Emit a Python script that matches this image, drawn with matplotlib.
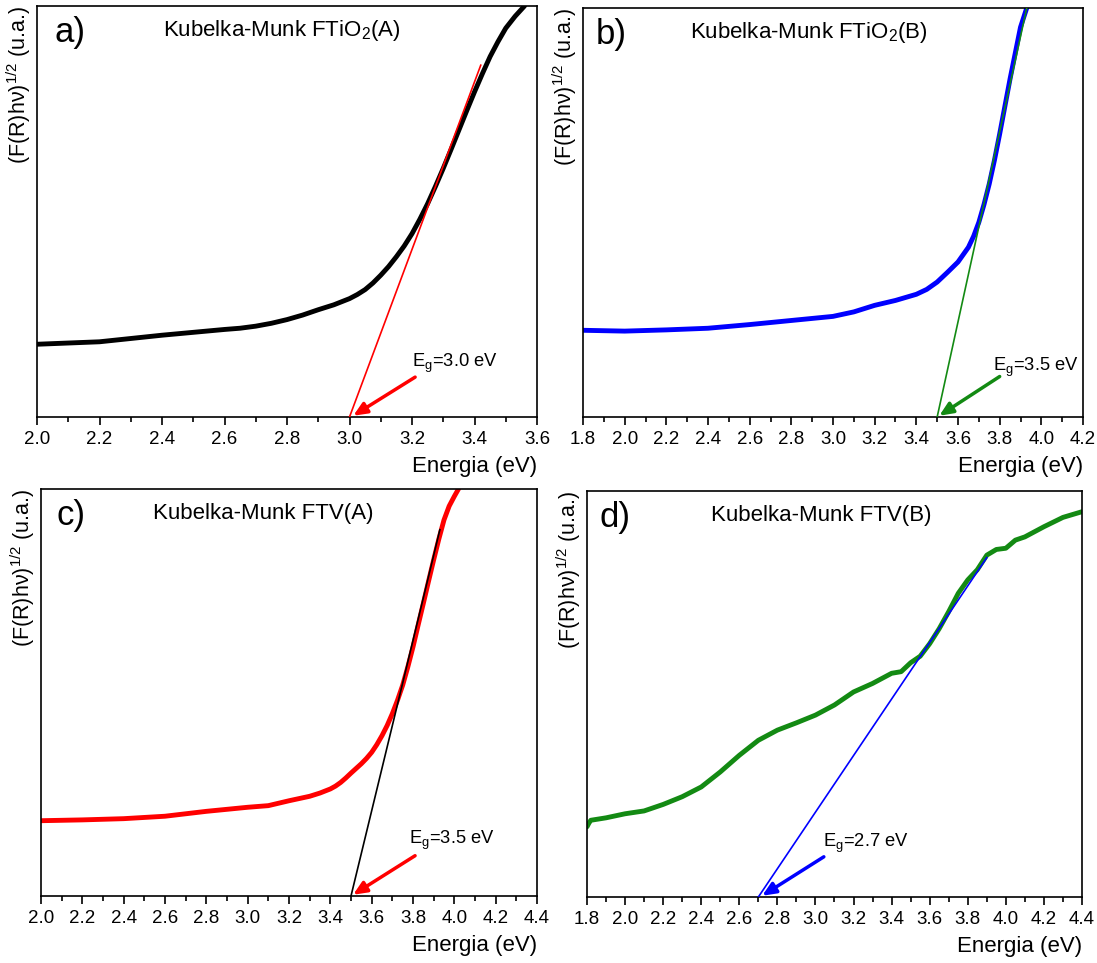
import matplotlib

matplotlib.use("Agg")
import matplotlib.pyplot as plt
from matplotlib.ticker import MultipleLocator

plt.rcParams["font.family"] = ["Liberation Sans", "DejaVu Sans"]
plt.rcParams["mathtext.fontset"] = "custom"
plt.rcParams["mathtext.rm"] = "Liberation Sans"
plt.rcParams["mathtext.it"] = "Liberation Sans"
plt.rcParams["mathtext.default"] = "regular"

# ==================== Data (arbitrary units 0-100) ====================
# a) FTiO2(A)
energy_a = [2.0, 2.1, 2.2, 2.3, 2.4, 2.5, 2.6, 2.65, 2.7, 2.75, 2.8, 2.85, 2.9, 2.95, 3.0,
            3.025, 3.05, 3.075, 3.1, 3.125, 3.15, 3.175, 3.2, 3.225, 3.25, 3.275, 3.3,
            3.325, 3.35, 3.375, 3.4, 3.425, 3.45, 3.475, 3.5, 3.53, 3.56]
km_a = [17.7, 18.0, 18.3, 19.1, 19.9, 20.6, 21.3, 21.6, 22.1, 22.8, 23.7, 24.8, 26.1, 27.3, 28.8,
        29.8, 31.0, 32.6, 34.5, 36.6, 39.0, 41.6, 44.6, 48.1, 51.9, 56.1, 60.5,
        65.1, 69.8, 74.5, 79.1, 83.5, 87.7, 91.3, 94.6, 97.5, 100.0]
fit_a = [3.0, 3.42]          # tangent line x range
fit_a_y = [0.0, 85.6]

# b) FTiO2(B)
energy_b = [1.8, 2.0, 2.2, 2.4, 2.6, 2.8, 3.0, 3.1, 3.2, 3.3, 3.4, 3.45, 3.5, 3.55, 3.6,
            3.65, 3.675, 3.7, 3.725, 3.75, 3.775, 3.8, 3.85, 3.9, 3.93]
km_b = [21.2, 21.0, 21.3, 21.7, 22.6, 23.6, 24.6, 25.7, 27.3, 28.5, 30.0, 31.2, 33.0, 35.4, 37.9,
        41.5, 44.2, 47.6, 52.0, 57.0, 62.8, 69.2, 82.7, 95.3, 100.0]
fit_b = [3.5, 3.93]
fit_b_y = [0.0, 100.0]

# c) FTV(A)
energy_c = [2.0, 2.2, 2.4, 2.6, 2.8, 3.0, 3.1, 3.2, 3.3, 3.35, 3.4, 3.425, 3.45, 3.475,
            3.5, 3.55, 3.575, 3.6, 3.625, 3.65, 3.675, 3.7, 3.725, 3.75, 3.775, 3.8,
            3.825, 3.85, 3.875, 3.9, 3.925, 3.95, 3.975, 4.0, 4.02]
km_c = [18.5, 18.7, 19.0, 19.6, 20.8, 21.8, 22.2, 23.4, 24.5, 25.3, 26.3, 27.0, 27.9, 29.0,
        30.2, 32.5, 33.8, 35.3, 37.2, 39.4, 41.9, 44.8, 48.1, 51.8, 56.3, 61.2,
        66.6, 71.9, 77.3, 82.6, 87.7, 92.4, 95.8, 98.2, 100.0]
fit_c = [3.5, 3.93]
fit_c_y = [0.0, 90.0]

# d) FTV(B)
energy_d = [1.8, 1.81, 1.82, 1.9, 2.0, 2.1, 2.2, 2.3, 2.4, 2.5, 2.6, 2.7, 2.8, 2.9, 3.0,
            3.1, 3.2, 3.3, 3.4, 3.45, 3.5, 3.55, 3.6, 3.65, 3.7, 3.75, 3.8, 3.85, 3.9,
            3.95, 4.0, 4.05, 4.1, 4.2, 4.3, 4.4]
km_d = [17.3, 18.2, 18.9, 19.5, 20.5, 21.2, 22.8, 24.7, 27.1, 30.8, 34.9, 38.6, 41.1, 42.9, 44.8,
        47.3, 50.5, 52.6, 55.1, 55.5, 57.7, 59.3, 62.4, 66.1, 70.3, 74.8, 78.1, 80.6, 84.2,
        85.6, 85.9, 87.9, 88.7, 91.2, 93.5, 94.9]
fit_d = [2.7, 3.9]
fit_d_y = [0.0, 83.6]

panels = [
    dict(x=energy_a, y=km_a, fx=fit_a, fy=fit_a_y, curve="black", fit="red", arrow="red",
         letter="a)", title="Kubelka-Munk FTiO$_2$(A)", eg="E$_g$=3.0 eV",
         xlim=(2.0, 3.6), tail=(3.21, 9.7), head=(3.012, 0.3), txt=(3.2, 13.0),
         rect=[37, 6, 537, 417], lx=0.036, tx=0.252),
    dict(x=energy_b, y=km_b, fx=fit_b, fy=fit_b_y, curve="#0000ff", fit="#138a13", arrow="#138a13",
         letter="b)", title="Kubelka-Munk FTiO$_2$(B)", eg="E$_g$=3.5 eV",
         xlim=(1.8, 4.2), tail=(3.80, 9.9), head=(3.51, 0.3), txt=(3.77, 12.2),
         rect=[583, 8, 1083, 417], lx=0.026, tx=0.214),
    dict(x=energy_c, y=km_c, fx=fit_c, fy=fit_c_y, curve="red", fit="black", arrow="red",
         letter="c)", title="Kubelka-Munk FTV(A)", eg="E$_g$=3.5 eV",
         xlim=(2.0, 4.4), tail=(3.81, 9.9), head=(3.51, 0.3), txt=(3.78, 13.6),
         rect=[41, 489, 537, 896], lx=0.032, tx=0.226),
    dict(x=energy_d, y=km_d, fx=fit_d, fy=fit_d_y, curve="#138a13", fit="#0000ff", arrow="#0000ff",
         letter="d)", title="Kubelka-Munk FTV(B)", eg="E$_g$=2.7 eV",
         xlim=(1.8, 4.4), tail=(3.044, 9.9), head=(2.72, 0.3), txt=(3.04, 13.1),
         rect=[587, 491, 1082, 897], lx=0.026, tx=0.25),
]

W, H = 1097, 963
fig = plt.figure(figsize=(W / 100, H / 100), dpi=100)

for p in panels:
    l, t, r, b = p["rect"]
    ax = fig.add_axes([l / W, 1 - b / H, (r - l) / W, (b - t) / H])

    ax.plot(p["x"], p["y"], color=p["curve"], lw=3.5, solid_capstyle="round",
            solid_joinstyle="round", zorder=2)
    ax.plot(p["fx"], p["fy"], color=p["fit"], lw=1.2, zorder=3)

    ax.annotate("", xy=p["head"], xytext=p["tail"],
                arrowprops=dict(arrowstyle="-|>,head_length=0.8,head_width=0.35",
                                color=p["arrow"], lw=2.5, shrinkA=0, shrinkB=0),
                zorder=4)
    ax.text(p["txt"][0], p["txt"][1], p["eg"], fontsize=13.2, ha="left", va="center")

    ax.text(p["lx"], 0.975, p["letter"], transform=ax.transAxes, fontsize=25,
            ha="left", va="top")
    ax.text(p["tx"], 0.94, p["title"], transform=ax.transAxes, fontsize=16,
            ha="left", va="center")

    ax.set_xlim(*p["xlim"])
    ax.set_ylim(0, 100)
    ax.xaxis.set_major_locator(MultipleLocator(0.2))
    ax.xaxis.set_minor_locator(MultipleLocator(0.1))
    ax.xaxis.set_major_formatter(plt.FormatStrFormatter("%.1f"))
    ax.tick_params(axis="x", which="major", direction="out", length=6, width=1.2,
                   labelsize=13.5, pad=4)
    ax.tick_params(axis="x", which="minor", direction="out", length=3.5, width=1.2)
    ax.set_yticks([])
    for s in ax.spines.values():
        s.set_linewidth(1.2)

    ax.set_xlabel("Energia (eV)", fontsize=16, loc="right", labelpad=6)
    ax.set_ylabel("(F(R)hν)$^{1/2}$ (u.a.)", fontsize=15.5, loc="top", labelpad=3)

fig.savefig("out.png", dpi=100)
